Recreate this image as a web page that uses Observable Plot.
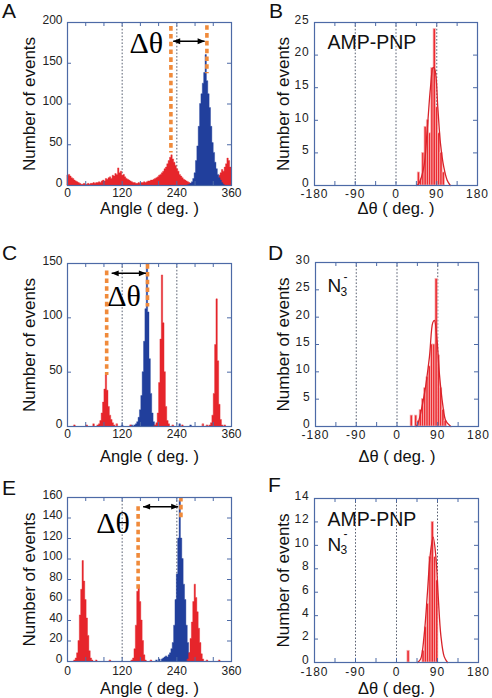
<!DOCTYPE html>
<html><head><meta charset="utf-8">
<script src="https://cdn.jsdelivr.net/npm/d3@7"></script>
<script src="https://cdn.jsdelivr.net/npm/@observablehq/plot@0.6"></script>
<style>
body{margin:0;background:#fff;}
#wrap{position:relative;width:492px;height:698px;overflow:hidden;font-family:"Liberation Sans",Arial,sans-serif;}
.panel{position:absolute;}
.letter{position:absolute;font-size:21px;line-height:1;color:#111;font-family:"Liberation Sans",Arial,sans-serif;}
.wide g[aria-label="x-axis tick label"] text{letter-spacing:1px;}
.wide g[aria-label="y-axis tick label"] text{letter-spacing:0.8px;}
</style></head><body><div id="wrap"></div>
<script>
// ---------- DATA ----------
const angleBin = 3;          // degrees per bin in panels A, C, E
const deltaBin = 5;          // degrees per bin in panels B, D, F

// Panel A: red histogram, 3° bins from 0° to 357°
const aRed = [
  12,13,11,9,8,6,5,4,3,
  2,1,1,2,1,1,2,1,2,2,3,2,3,
  3,4,3,5,6,5,8,7,9,10,8,12,11,14,13,21,15,17,12,13,10,8,7,6,5,4,
  3,3,2,2,3,2,3,3,4,3,4,5,5,6,
  6,7,8,9,10,12,13,15,17,20,22,26,30,34,37,32,28,24,20,17,13,11,9,7,6,5,
  4,3,2,2,0,0,0,0,0,0,0,0,0,0,0,0,0,0,0,0,0,0,
  9,12,15,19,17,22,26,33,30,22
];
// Panel A: blue peak (start angle, counts)
const aBlue = [[264, [0,1,2,4,8,15,30,48,72,100,112,125,138,160,128,112,95,72,52,40,28,20,13,9,6,3,1]]];

// Panel C
const cRed = [
  [66, [1,2,5,12,22,34,47,33,18,10,6,3,1]],
  [192, [1,3,12,40,80,139,95,50,18,5,2]],
  [312, [1,3,10,30,75,117,60,20,6,1]],
  [15,[1]],[42,[1]],[57,[2]],[108,[2]],[138,[1]],[231,[1]],[252,[1]],[297,[2]],[306,[1]],[345,[1]]
];
const cBlue = [
  [147, [1,2,4,8,15,28,50,78,108,145,105,62,30,12,4,1]],
  [120,[1]],[141,[1]],[246,[2]],[270,[1]]
];

// Panel E
const eRed = [
  [15, [1,3,8,20,45,70,98,78,60,42,25,10,3,1]],
  [141, [1,3,12,35,68,74,58,40,20,6,1]],
  [264, [2,8,22,38,58,75,62,48,32,18,7,2]],
  [63,[1]],[93,[1]],[183,[1]],[306,[1]],[333,[1]]
];
const eBlue = [
  [207, [2,3,4,5,4,6,8,12,18,35,60,85,120,157,120,100,75,60,35,18,8,2]],
  [195,[1]],[201,[2]]
];

// Panels B, D, F: Δθ histograms (bin left edge, count) and fitted curves
const bBins = [48,53,58,63,68,73,78,83,88,93,98,103];
const bCounts = [2,1,5,9,10,8,18,24,12,8,5,2];
const bFit = [[45,0],[50.4,0.3],[61.4,2.8],[68.8,8.4],[76.1,15],[82,18.1],[86.4,17.6],[92.3,12],[98.3,6.4],[105.6,2.8],[113,0.8],[120,0]];

const dBins = [30,40,45,50,55,60,65,70,75,80,85,90,95,100,105];
const dCounts = [2,2,1,3,5,7,9,11,15,15,27,13,7,3,1];
const dFit = [[42,0],[46,0.5],[60.6,6],[71.6,12.7],[79,19],[82.6,19.4],[88.5,15.7],[93.7,9.6],[101,4],[108,1],[119,0]];

const fBins = [24,57,62,67,72,77,82,87];
const fCounts = [1,1,3,5,9,12,9,7];
const fFit = [[46,0],[53,0.3],[60.6,2.3],[68,6],[73.8,9.1],[80.4,10.7],[86.3,9.1],[91.5,5.7],[97.4,2.3],[104.7,0.5],[112,0]];

// Annotations: orange dashed markers [angle, top count, bottom count], arrow [from, to, at count], Δθ label [angle, count]
const aMarkers = [[227,195,40],[306,196,137]];
const aArrow = [232,301,177];
const aDeltaLabel = [173,174];
const cMarkers = [[86,143,47],[175.6,149,110]];
const cArrow = [97,172,141];
const cDeltaLabel = [124,120];
const eMarkers = [[155,151,68],[249,160,139]];
const eArrow = [166,243,151];
const eDeltaLabel = [100,135];

// Axes
const angleTickLabels = [0,120,240,360];
const angleMinorTicks = [0,40,80,120,160,200,240,280,320,360];
const angleGuides = [120,240];
const deltaTickLabels = [-180,-90,0,90,180];
const deltaMinorTicks = [-180,-135,-90,-45,0,45,90,135,180];
const deltaGuides = [-90,0,90];
const aYTicks = [0,50,100,150,200];
const bYTicks = [0,5,10,15,20,25];
const cYTicks = [0,50,100,150];
const dYTicks = [0,5,10,15,20,25,30];
const eYTicks = [0,20,40,60,80,100,120,140,160];
const fYTicks = [0,2,4,6,8,10,12,14];

// ---------- HELPERS ----------
const RED = "#e6252b", BLUE = "#213f9c", ORANGE = "#f08a3a", FRAME = "#4d6aa6", GUIDE = "#5a6172";
const SERIF = "'Liberation Serif', 'DejaVu Serif', 'Times New Roman', serif";
function stepsFromPeaks(peaks, w) {
  const out = [];
  peaks.forEach(([start, counts], k) => {
    counts.forEach((c,i)=>out.push({x:start+i*w, y:c, z:k}));
    out.push({x:start+counts.length*w, y:0, z:k});
  });
  return out;
}
function binsFromEdges(edges, counts, w) { return edges.map((e,i)=>({x1:e, x2:e+w, y:counts[i]})); }
const triRight = {draw(c, s){ const r = Math.sqrt(s/Math.PI); c.moveTo(r,0); c.lineTo(-r,-r*0.8); c.lineTo(-r,r*0.8); c.closePath(); }};
const triLeft = {draw(c, s){ const r = Math.sqrt(s/Math.PI); c.moveTo(-r,0); c.lineTo(r,-r*0.8); c.lineTo(r,r*0.8); c.closePath(); }};

function histMarks(peaks, color) {
  return Plot.areaY(stepsFromPeaks(peaks, angleBin), {x:"x", y:"y", z:"z", curve:"step-after", fill:color, stroke:color, strokeWidth:0.4});
}
function annotation(markers, arrow, label) {
  const m = markers.map(([x,top,bot])=>({x, y1:top, y2:bot}));
  const a = [{x1:arrow[0], x2:arrow[1], y:arrow[2]}];
  return [
    Plot.ruleX(m, {x:"x", y1:"y1", y2:"y2", stroke:ORANGE, strokeWidth:3.6, strokeDasharray:"4.6,3.2"}),
    Plot.link(a, {x1:"x1", x2:"x2", y1:"y", y2:"y", stroke:"#000", strokeWidth:1.5}),
    Plot.dot(a, {x:"x2", y:"y", symbol:triRight, r:3.6, fill:"#000", stroke:"none", dx:-3.4}),
    Plot.dot(a, {x:"x1", y:"y", symbol:triLeft, r:3.6, fill:"#000", stroke:"none", dx:3.4}),
    Plot.text([label], {x:d=>d[0], y:d=>d[1], text:()=>"Δθ", fontFamily:SERIF, fontSize:30, fill:"#000", textAnchor:"middle", lineAnchor:"middle"})
  ];
}
function fitMarks(edges, counts, fit) {
  return [
    Plot.rectY(binsFromEdges(edges, counts, deltaBin), {x1:"x1", x2:"x2", y:"y", fill:"#ec2b31", stroke:"#f7b4b4", strokeWidth:0.7}),
    Plot.line(fit, {x:d=>d[0], y:d=>d[1], stroke:"#d8232a", strokeWidth:1.3, curve:"catmull-rom"})
  ];
}

const wrap = document.getElementById("wrap");
function panel({left, top, w, h, m, xDomain, yDomain, xLabels, xMinor, yTicks, guides, xTitle, yTitleOffset, tickPad, titleDy, marks, wide}) {
  const [x0,x1] = xDomain, [y0,y1] = yDomain;
  const tl = 4;
  const svg = Plot.plot({
    width:w, height:h, marginTop:m[0], marginRight:m[1], marginBottom:m[2], marginLeft:m[3],
    style:{fontFamily:"Liberation Sans, Arial, sans-serif", background:"transparent", color:"#222"},
    x:{domain:xDomain}, y:{domain:yDomain},
    marks:[
      Plot.ruleX(guides, {x:d=>d, stroke:GUIDE, strokeWidth:1, strokeDasharray:"1.6,1.8"}),
      ...marks,
      Plot.frame({stroke:FRAME, strokeWidth:1.2}),
      Plot.ruleX(xMinor, {x:d=>d, y1:()=>y0, y2:()=>y0, insetTop:-tl, stroke:FRAME}),
      Plot.ruleX(xMinor, {x:d=>d, y1:()=>y1, y2:()=>y1, insetBottom:-tl, stroke:FRAME}),
      Plot.ruleY(yTicks, {y:d=>d, x1:()=>x0, x2:()=>x0, insetRight:-tl, stroke:FRAME}),
      Plot.ruleY(yTicks, {y:d=>d, x1:()=>x1, x2:()=>x1, insetLeft:-tl, stroke:FRAME}),
      Plot.axisX({ticks:xLabels, tickSize:0, tickPadding:tickPad, fontSize:12, label:null, tickFormat:d=>String(d)}),
      Plot.axisY({ticks:yTicks, tickSize:0, tickPadding:5, dy:-2.5, fontSize:12, label:null, tickFormat:d=>String(d)}),
      Plot.text([xTitle], {frameAnchor:"bottom", dy:titleDy, text:d=>d, fontSize:16.5, fill:"#111", lineAnchor:"middle"}),
      Plot.text(["Number of events"], {frameAnchor:"left", dx:-yTitleOffset, rotate:-90, text:d=>d, fontSize:17, fill:"#111", textAnchor:"middle", lineAnchor:"middle"})
    ]
  });
  const div = document.createElement("div");
  div.className = "panel" + (wide ? " wide" : "");
  div.style.left = left + "px"; div.style.top = top + "px";
  div.appendChild(svg);
  wrap.appendChild(div);
}
function letter(t, x, y) {
  const d = document.createElement("div"); d.className = "letter"; d.textContent = t;
  d.style.left = x + "px"; d.style.top = y + "px"; wrap.appendChild(d);
}
function insideText(items) {
  return items.map(([t, dx, dy, size, anchor, lineAnchor]) =>
    Plot.text([t], {frameAnchor:"top-left", dx, dy, text:d=>d, fontSize:size, fill:"#111", textAnchor:anchor, lineAnchor}));
}

// ---------- PANELS ----------
panel({left:0, top:0, w:245, h:230, m:[22,14,45,67], xDomain:[0,360], yDomain:[0,200],
  xLabels:angleTickLabels, xMinor:angleMinorTicks, yTicks:aYTicks, guides:angleGuides,
  xTitle:"Angle ( deg. )", yTitleOffset:38, tickPad:3, titleDy:23,
  marks:[histMarks([[0, aRed]], RED), histMarks(aBlue, BLUE), ...annotation(aMarkers, aArrow, aDeltaLabel)]});

panel({left:245, top:0, w:247, h:230, m:[22,15,45,69], xDomain:[-180,180], yDomain:[0,25],
  xLabels:deltaTickLabels, xMinor:deltaMinorTicks, yTicks:bYTicks, guides:deltaGuides,
  xTitle:"Δθ ( deg. )", yTitleOffset:31, tickPad:4, titleDy:23, wide:true,
  marks:[...fitMarks(bBins, bCounts, bFit), ...insideText([["AMP-PNP",13,13,19.5,"start","top"]])]});

panel({left:0, top:230, w:245, h:240, m:[33,14,44,67], xDomain:[0,360], yDomain:[0,150],
  xLabels:angleTickLabels, xMinor:angleMinorTicks, yTicks:cYTicks, guides:angleGuides,
  xTitle:"Angle ( deg. )", yTitleOffset:38, tickPad:3, titleDy:30,
  marks:[histMarks(cBlue, BLUE), histMarks(cRed, RED), ...annotation(cMarkers, cArrow, cDeltaLabel)]});

panel({left:245, top:230, w:247, h:240, m:[32,14,44,70], xDomain:[-180,180], yDomain:[0,30],
  xLabels:deltaTickLabels, xMinor:deltaMinorTicks, yTicks:dYTicks, guides:deltaGuides,
  xTitle:"Δθ ( deg. )", yTitleOffset:32, tickPad:4, titleDy:30, wide:true,
  marks:[...fitMarks(dBins, dCounts, dFit), ...insideText([["N",12,16,19,"start","top"],["3",25,25,12,"start","top"],["-",30,14.5,12,"middle","middle"]])]});

panel({left:0, top:460, w:245, h:238, m:[37,14,37,67], xDomain:[0,360], yDomain:[0,160],
  xLabels:angleTickLabels, xMinor:angleMinorTicks, yTicks:eYTicks, guides:angleGuides,
  xTitle:"Angle ( deg. )", yTitleOffset:38, tickPad:5, titleDy:27,
  marks:[histMarks(eBlue, BLUE), histMarks(eRed, RED), ...annotation(eMarkers, eArrow, eDeltaLabel)]});

panel({left:245, top:460, w:247, h:238, m:[38,14,36,69], xDomain:[-180,180], yDomain:[0,14],
  xLabels:deltaTickLabels, xMinor:deltaMinorTicks, yTicks:fYTicks, guides:deltaGuides,
  xTitle:"Δθ ( deg. )", yTitleOffset:31, tickPad:5, titleDy:26, wide:true,
  marks:[...fitMarks(fBins, fCounts, fFit), ...insideText([["AMP-PNP",13,14,19.5,"start","top"],["N",13,39,19,"start","top"],["3",26,47,12,"start","top"],["-",31,35.5,12,"middle","middle"]])]});

letter("A", 2, 0); letter("B", 269, 0);
letter("C", 2, 242); letter("D", 268, 242);
letter("E", 2, 477); letter("F", 268, 474);
</script></body></html>
